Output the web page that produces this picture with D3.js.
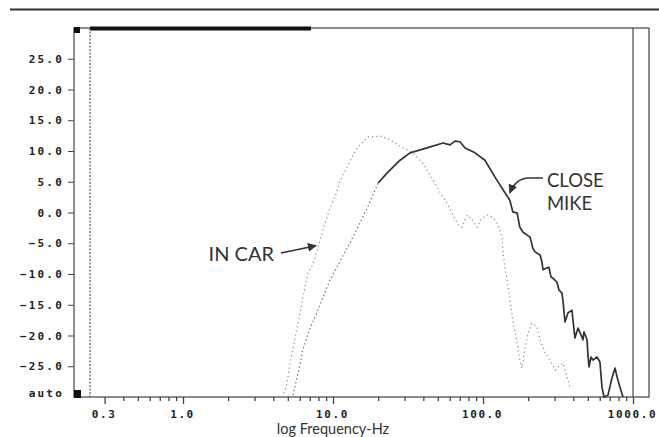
<!DOCTYPE html>
<html>
<head>
<meta charset="utf-8">
<script src="https://cdn.jsdelivr.net/npm/d3@7"></script>
<style>
  body { margin: 0; background: #fff; }
  svg { display: block; }
  .num { font-family: "DejaVu Sans Mono", monospace; font-weight: bold; font-size: 11px; letter-spacing: 2.2px; fill: #222; }
  .ann { font-family: Lato, "Open Sans", sans-serif; fill: #333; }
</style>
</head>
<body>
<div id="chart"></div>
<script>
// close mike response (Hz, dB)
var closeFreq = [5.41, 6.12, 6.21, 7.03, 7.59, 8.45, 9.55, 11.1, 13.0, 15.1, 16.9, 20.0, 22.9, 28.0, 32.6, 42.3, 54.1, 60.3, 65.0, 70.2, 75.9, 88.5, 103, 120,
    136, 151, 158, 169, 176, 185, 206, 215, 222, 240, 247, 251, 267, 275, 284, 293, 311, 321, 336, 341, 352, 369, 392, 398, 410, 430, 450, 464, 471, 494,
    501, 509, 525, 541, 575, 602, 621, 641, 681, 724, 759, 782, 819, 858];
var closeDb = [-29.7, -24.0, -22.7, -18.8, -17.0, -14.2, -11.0, -8.0, -4.9, -1.7, 0.7, 4.8, 6.4, 8.5, 9.7, 10.5, 11.3, 11.0, 11.6, 11.5, 10.5, 9.7, 8.5, 5.8,
    3.7, 2.0, 0.1, -0.1, -2.4, -3.2, -4.0, -5.8, -6.4, -6.9, -8.0, -9.3, -9.0, -8.9, -10.5, -10.7, -11.3, -12.6, -13.1, -14.2, -17.8, -16.3, -15.9, -17.5, -20.4, -18.8, -19.9, -20.7, -19.4, -20.7,
    -23.2, -25.1, -23.5, -24.0, -23.5, -24.3, -28.4, -30.0, -29.7, -26.9, -25.3, -26.7, -28.4, -30.0];

// in car response (Hz, dB)
var carFreq = [4.71, 4.94, 5.17, 5.50, 5.75, 6.03, 6.31, 6.81, 7.24, 7.59, 8.19, 8.85, 9.55, 10.6, 11.1, 12.4, 13.4, 14.5, 17.1, 21.2, 24.0, 29.3, 34.1, 39.8, 46.4, 51.7, 57.5, 63.1, 68.1, 72.4, 78.2, 84.5, 91.2, 98.5, 108, 117, 126, 134, 136, 140, 145, 151, 158, 169, 176, 182, 191, 200, 212, 229, 240, 259, 280, 302, 326, 341, 363, 380];
var carDb = [-29.4, -27.7, -24.5, -21.2, -18.8, -16.3, -13.7, -9.8, -8.7, -7.4, -4.5, -1.7, 0.7, 3.3, 5.0, 7.4, 9.0, 10.5, 12.3, 12.4, 11.8, 10.5, 9.7, 8.0, 5.3, 3.3, 1.5, -0.4, -2.0, -2.4, -0.4, -1.2, -2.4, -0.9, -0.4, -0.9, -2.0, -4.0, -6.6, -8.9, -11.0, -14.2, -17.5, -21.2, -24.0, -25.3, -21.9, -19.6, -18.0, -18.6, -20.7, -22.8, -24.0, -25.6, -24.8, -24.5, -26.7, -28.4];

var yTicks = [25, 20, 15, 10, 5, 0, -5, -10, -15, -20, -25];
var xMajor = [0.3, 1, 10, 100, 1000];
var xMinor = [0.4, 0.5, 0.6, 0.7, 0.8, 0.9, 2, 3, 4, 5, 6, 7, 8, 9, 20, 30, 40, 50, 60, 70, 80, 90, 200, 300, 400, 500, 600, 700, 800, 900];

var W = 659, H = 437;
var pLeft = 74, pRight = 649, pTop = 28, pBottom = 397;

var svg = d3.select('#chart').append('svg').attr('width', W).attr('height', H);

var x = d3.scaleLog().domain([1, 1000]).range([183, 633]);
var y = d3.scaleLinear().domain([-30, 30]).range([pBottom, pTop]);

// header rule
svg.append('line').attr('x1', 10).attr('x2', W).attr('y1', 9.5).attr('y2', 9.5)
    .attr('stroke', '#333').attr('stroke-width', 2);

// frame
svg.append('rect').attr('x', pLeft).attr('y', pTop).attr('width', pRight - pLeft).attr('height', pBottom - pTop)
    .attr('fill', 'none').attr('stroke', '#444').attr('stroke-width', 1.2);
// thick bar on top
svg.append('rect').attr('x', x(0.24)).attr('y', pTop - 1.5).attr('width', 311 - x(0.24)).attr('height', 4).attr('fill', '#111');
// black squares
svg.append('rect').attr('x', pLeft).attr('y', pTop - 1).attr('width', 6).attr('height', 6).attr('fill', '#111');
svg.append('rect').attr('x', pLeft).attr('y', pBottom - 7).attr('width', 7).attr('height', 8).attr('fill', '#111');
// dashed cursor line
svg.append('line').attr('x1', x(0.24)).attr('x2', x(0.24)).attr('y1', pTop).attr('y2', pBottom)
    .attr('stroke', '#333').attr('stroke-width', 1).attr('stroke-dasharray', '2,1.5');
// 1000 Hz line
svg.append('line').attr('x1', x(1000)).attr('x2', x(1000)).attr('y1', pTop).attr('y2', pBottom)
    .attr('stroke', '#444').attr('stroke-width', 1.2);

// y axis
var yAxis = svg.append('g').attr('transform', 'translate(' + pLeft + ',0)')
    .call(d3.axisLeft(y).tickValues(yTicks).tickSize(6).tickPadding(4).tickFormat(d3.format('.1f')));
yAxis.select('.domain').remove();
yAxis.selectAll('line').attr('stroke', '#444');
yAxis.selectAll('text').attr('class', 'num').attr('font-family', null).attr('font-size', null).attr('fill', null);
svg.append('text').attr('class', 'num').attr('x', pLeft - 10).attr('y', y(-29.4)).attr('dy', '0.32em')
    .attr('text-anchor', 'end').text('auto');

// x axis
var xAxisMinor = svg.append('g').attr('transform', 'translate(0,' + pBottom + ')')
    .call(d3.axisBottom(x).tickValues(xMinor).tickSize(4).tickFormat(''));
xAxisMinor.select('.domain').remove();
xAxisMinor.selectAll('line').attr('stroke', '#444').attr('stroke-width', 1.3);
var xAxis = svg.append('g').attr('transform', 'translate(0,' + pBottom + ')')
    .call(d3.axisBottom(x).tickValues(xMajor).tickSize(7).tickPadding(6).tickFormat(d3.format('.1f')));
xAxis.select('.domain').remove();
xAxis.selectAll('line').attr('stroke', '#444').attr('stroke-width', 1.3);
xAxis.selectAll('text').attr('class', 'num').attr('font-family', null).attr('font-size', null).attr('fill', null)
    .attr('dx', '-1').style('letter-spacing', '1.6px');

svg.append('text').attr('class', 'ann').attr('x', x(10)).attr('y', 433.5).attr('text-anchor', 'middle')
    .attr('font-size', 14.5).text('log Frequency-Hz');

// curves
var closeData = closeFreq.map(function (f, i) { return [f, closeDb[i]]; });
var carData = carFreq.map(function (f, i) { return [f, carDb[i]]; });
var line = d3.line().x(function (d) { return x(d[0]); }).y(function (d) { return y(d[1]); });

svg.append('path').datum(carData).attr('d', line).attr('fill', 'none')
    .attr('stroke', '#8a8a8a').attr('stroke-width', 1.2).attr('stroke-dasharray', '1.2,3');
svg.append('path').datum(closeData.filter(function (d) { return d[0] <= 20; })).attr('d', line).attr('fill', 'none')
    .attr('stroke', '#777').attr('stroke-width', 1.2).attr('stroke-dasharray', '1.5,2.5');
svg.append('path').datum(closeData.filter(function (d) { return d[0] >= 20; })).attr('d', line).attr('fill', 'none')
    .attr('stroke', '#333').attr('stroke-width', 1.7).attr('stroke-linejoin', 'round');

// annotations
svg.append('defs').append('marker').attr('id', 'ah').attr('viewBox', '0 0 10 10')
    .attr('refX', 9).attr('refY', 5).attr('markerWidth', 9).attr('markerHeight', 9)
    .attr('markerUnits', 'userSpaceOnUse').attr('orient', 'auto')
    .append('path').attr('d', 'M0,0 L10,5 L0,10 Z').attr('fill', '#333');

var inTail = [x(4.5), y(-6.6)], inTip = [x(7.7), y(-5.4)];
svg.append('path').attr('d', 'M' + inTail + 'L' + inTip).attr('stroke', '#333').attr('stroke-width', 1.6)
    .attr('fill', 'none').attr('marker-end', 'url(#ah)');
svg.append('text').attr('class', 'ann').attr('x', inTail[0] - 7).attr('y', inTail[1] + 7.5)
    .attr('text-anchor', 'end').attr('font-size', 20).text('IN CAR');

var cTail = [x(251), y(5.6)], cTip = [x(151), y(3.2)];
svg.append('path').attr('d', 'M' + cTail + 'L' + [cTail[0] - 14, cTail[1]] + 'Q' + [cTip[0] + 6, cTail[1]] + ' ' + cTip)
    .attr('stroke', '#333').attr('stroke-width', 1.6).attr('fill', 'none').attr('marker-end', 'url(#ah)');
svg.append('text').attr('class', 'ann').attr('font-size', 18.5)
    .attr('x', cTail[0] + 4).attr('y', 187).text('CLOSE');
svg.append('text').attr('class', 'ann').attr('font-size', 18.5)
    .attr('x', cTail[0] + 4).attr('y', 209.5).text('MIKE');
</script>
</body>
</html>
